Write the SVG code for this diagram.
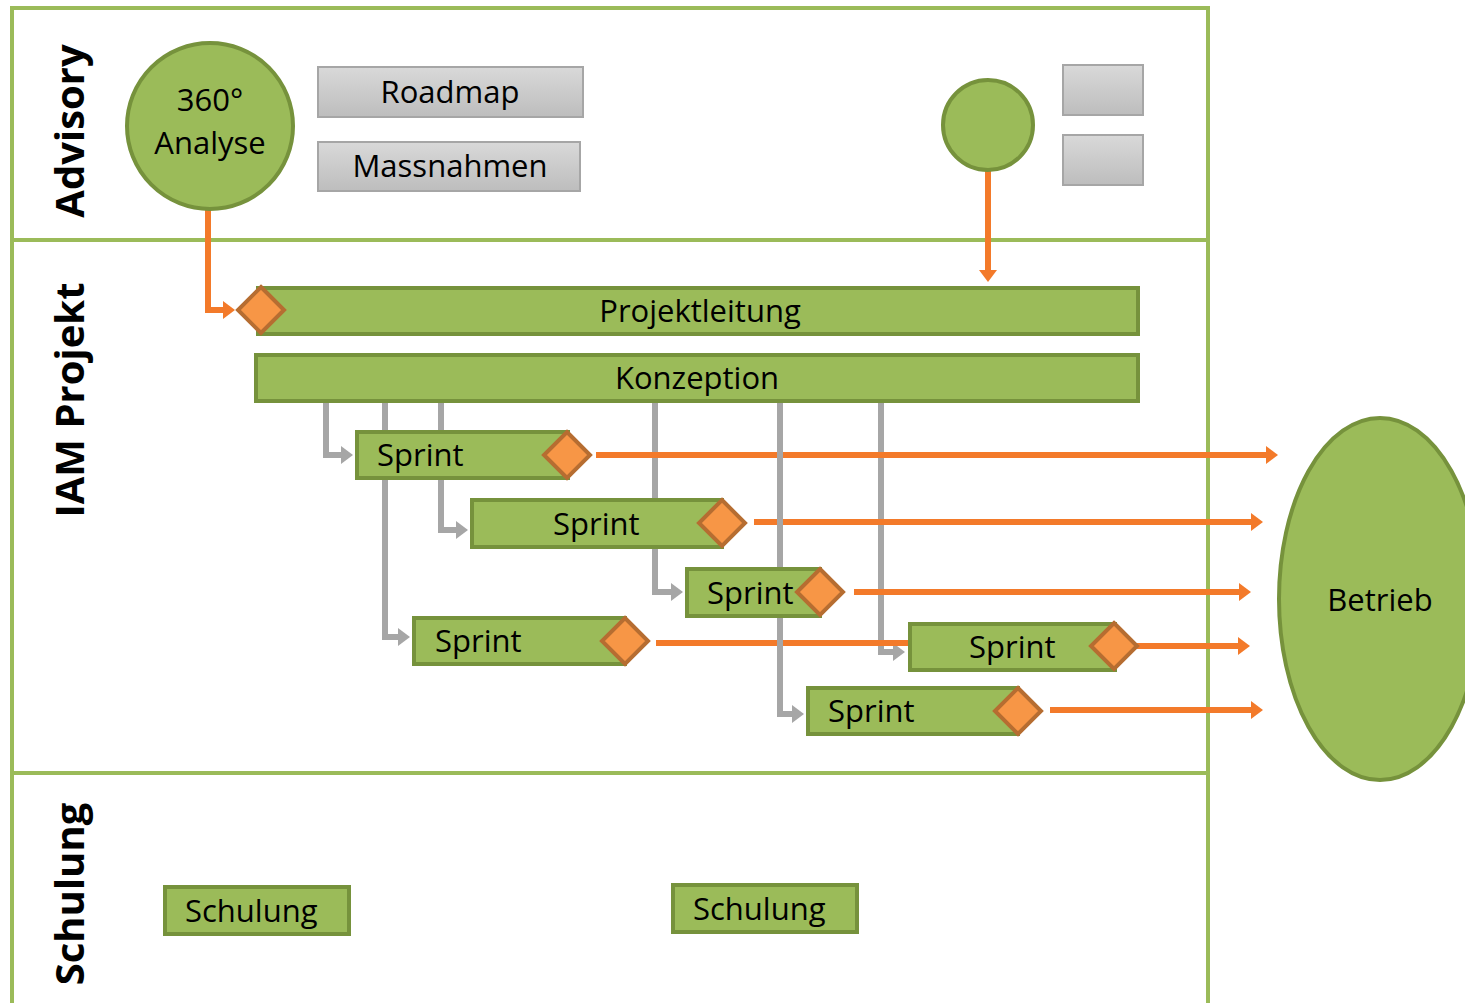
<svg xmlns="http://www.w3.org/2000/svg" width="1465" height="1003" viewBox="0 0 1465 1003">
<defs>
<linearGradient id="gray" x1="0" y1="0" x2="0" y2="1">
<stop offset="0" stop-color="#D9D9D9"/><stop offset="1" stop-color="#BDBDBD"/>
</linearGradient>
<marker id="ao" markerUnits="userSpaceOnUse" markerWidth="14" markerHeight="18" refX="2" refY="9" orient="auto">
<path d="M0,0 L12,9 L0,18 Z" fill="#F37A2A"/>
</marker>
<marker id="ag" markerUnits="userSpaceOnUse" markerWidth="14" markerHeight="18" refX="2" refY="9" orient="auto">
<path d="M0,0 L12,9 L0,18 Z" fill="#A6A6A6"/>
</marker>
<style>
.lane{fill:none;stroke:#9BBB59;stroke-width:4}
.lt{font-family:"Open Sans","DejaVu Sans",sans-serif;font-weight:bold;font-size:40px;fill:#000;text-anchor:middle}
.g{fill:#9BBB59;stroke:#76923C;stroke-width:4}
.gb{fill:url(#gray);stroke:#A6A6A6;stroke-width:2}
.dia{fill:#F79646;stroke:#B66D31;stroke-width:4}
.t{font-family:"Open Sans","Noto Sans",sans-serif;font-size:31px;fill:#000}
.c{text-anchor:middle}
.or{fill:none;stroke:#F37A2A;stroke-width:6}
.gr{fill:none;stroke:#A6A6A6;stroke-width:6}
</style>
</defs>
<rect width="1465" height="1003" fill="#fff"/>
<g id="lanes">
<path class="lane" d="M12,1010 L12,8 L1208,8 L1208,1010"/>
<line class="lane" x1="12" y1="240" x2="1208" y2="240"/>
<line class="lane" x1="12" y1="773" x2="1208" y2="773"/>
<text class="lt" transform="translate(84,131) rotate(-90)">Advisory</text>
<text class="lt" transform="translate(84,400) rotate(-90)">IAM Projekt</text>
<text class="lt" transform="translate(84,894) rotate(-90)">Schulung</text>
</g>
<g id="connectors-gray">
<path class="gr" d="M326,401 L326,455 L343,455" marker-end="url(#ag)"/>
<path class="gr" d="M385,401 L385,637 L400,637" marker-end="url(#ag)"/>
<path class="gr" d="M441,401 L441,530 L458,530" marker-end="url(#ag)"/>
<path class="gr" d="M655,401 L655,592 L673,592" marker-end="url(#ag)"/>
<path class="gr" d="M881,401 L881,652 L895,652" marker-end="url(#ag)"/>
</g>
<g id="connectors-orange">
<path class="or" d="M208,210 L208,310 L225,310" marker-end="url(#ao)"/>
<path class="or" d="M988,170 L988,272" marker-end="url(#ao)"/>
<path class="or" d="M596,455 L1268,455" marker-end="url(#ao)"/>
<path class="or" d="M754,522 L1253,522" marker-end="url(#ao)"/>
<path class="or" d="M854,592 L1241,592" marker-end="url(#ao)"/>
<path class="or" d="M656,643 L912,643"/>
<path class="or" d="M1136,646 L1240,646" marker-end="url(#ao)"/>
<path class="or" d="M1050,710 L1253,710" marker-end="url(#ao)"/>
</g>
<g id="connector-gray-front">
<path class="gr" d="M780,401 L780,714 L794,714" marker-end="url(#ag)"/>
</g>
<g id="analyse">
<circle class="g" cx="210" cy="126" r="83"/>
<text class="t c" x="210" y="111">360°</text>
<text class="t c" x="210" y="154">Analyse</text>
</g>
<g id="roadmap">
<rect class="gb" x="318" y="67" width="265" height="50"/>
<text class="t c" x="450" y="103">Roadmap</text>
</g>
<g id="massnahmen">
<rect class="gb" x="318" y="142" width="262" height="49"/>
<text class="t c" x="450" y="177">Massnahmen</text>
</g>
<g id="circle2">
<circle class="g" cx="988" cy="125" r="45"/>
</g>
<g id="box-a"><rect class="gb" x="1063" y="65" width="80" height="50"/></g>
<g id="box-b"><rect class="gb" x="1063" y="135" width="80" height="50"/></g>
<g id="projektleitung">
<rect class="g" x="258" y="288" width="880" height="46"/>
<path class="dia" d="M261,287 L284,310 L261,333 L238,310 Z"/>
<text class="t c" x="700" y="322">Projektleitung</text>
</g>
<g id="konzeption">
<rect class="g" x="256" y="355" width="882" height="46"/>
<text class="t c" x="697" y="389">Konzeption</text>
</g>
<g id="sprint1">
<rect class="g" x="357" y="432" width="211" height="46"/>
<path class="dia" d="M567,432 L590,455 L567,478 L544,455 Z"/>
<text class="t" x="377" y="466">Sprint</text>
</g>
<g id="sprint2">
<rect class="g" x="472" y="500" width="250" height="47"/>
<path class="dia" d="M722,500 L745,523 L722,546 L699,523 Z"/>
<text class="t" x="553" y="535">Sprint</text>
</g>
<g id="sprint3">
<rect class="g" x="687" y="569" width="133" height="47"/>
<path class="dia" d="M820,569 L843,592 L820,615 L797,592 Z"/>
<text class="t" x="707" y="604">Sprint</text>
</g>
<g id="sprint4">
<rect class="g" x="414" y="618" width="211" height="46"/>
<path class="dia" d="M625,618 L648,641 L625,664 L602,641 Z"/>
<text class="t" x="435" y="652">Sprint</text>
</g>
<g id="sprint5">
<rect class="g" x="910" y="624" width="205" height="46"/>
<path class="dia" d="M1114,623 L1137,646 L1114,669 L1091,646 Z"/>
<text class="t" x="969" y="658">Sprint</text>
</g>
<g id="sprint6">
<rect class="g" x="808" y="688" width="210" height="46"/>
<path class="dia" d="M1018,688 L1041,711 L1018,734 L995,711 Z"/>
<text class="t" x="828" y="722">Sprint</text>
</g>
<g id="betrieb">
<ellipse class="g" cx="1380" cy="599" rx="101" ry="181"/>
<text class="t c" x="1380" y="611">Betrieb</text>
</g>
<g id="schulung1">
<rect class="g" x="165" y="887" width="184" height="47"/>
<text class="t" x="185" y="922">Schulung</text>
</g>
<g id="schulung2">
<rect class="g" x="673" y="885" width="184" height="47"/>
<text class="t" x="693" y="920">Schulung</text>
</g>
</svg>
